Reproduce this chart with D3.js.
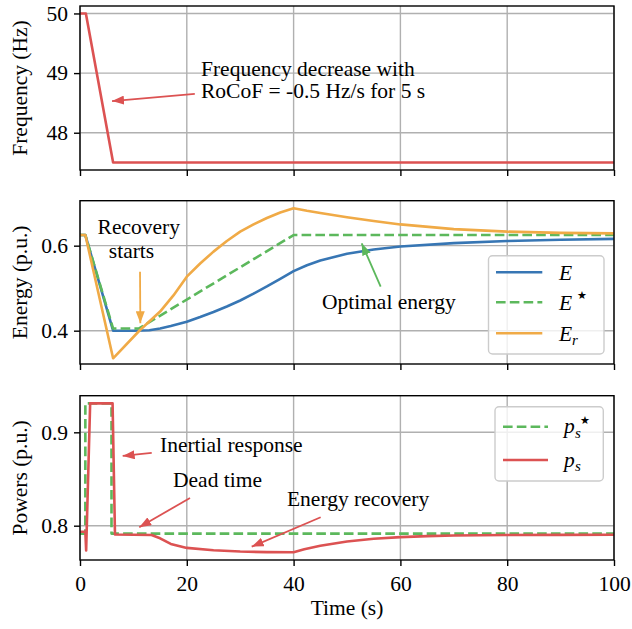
<!DOCTYPE html>
<html>
<head>
<meta charset="utf-8">
<script src="https://cdn.jsdelivr.net/npm/d3@7"></script>
<style>
  body { margin: 0; background: #fff; }
  svg text { font-family: "Liberation Serif", "DejaVu Serif", serif; fill: #000; }
</style>
</head>
<body>
<div id="container"></div>
<script>
// ---- data ----
let timeTicks = [0, 20, 40, 60, 80, 100];

let freqTime = [0, 1.1, 6.2, 100];
let freqValues = [50, 50, 47.5, 47.5];

let eTime = [0, 1, 6.2, 10, 13, 15, 17, 20, 22.5, 25, 27.5, 30, 32.5, 35, 37.5, 40, 42.5, 45, 50, 55, 60, 70, 80, 90, 100];
let eValues = [0.625, 0.625, 0.400, 0.400, 0.401, 0.405, 0.411, 0.421, 0.432, 0.444, 0.457, 0.471, 0.487, 0.504, 0.522, 0.540, 0.554, 0.565, 0.581, 0.591, 0.598, 0.606, 0.611, 0.614, 0.616];

let eStarTime = [0, 1, 6.2, 11, 40, 100];
let eStarValues = [0.625, 0.625, 0.405, 0.405, 0.625, 0.625];

let erTime = [0, 1, 6.2, 11.2, 15, 17.5, 20, 22.5, 25, 27.5, 30, 32.5, 35, 37.5, 40, 42.5, 45, 50, 55, 60, 70, 80, 90, 100];
let erValues = [0.625, 0.625, 0.335, 0.401, 0.445, 0.483, 0.527, 0.558, 0.586, 0.611, 0.633, 0.650, 0.665, 0.678, 0.688, 0.682, 0.677, 0.667, 0.658, 0.650, 0.639, 0.633, 0.630, 0.629];

let psStarTime = [0, 1, 1, 5.9, 5.9, 100];
let psStarValues = [0.7915, 0.7915, 0.931, 0.931, 0.7915, 0.7915];

let psTime = [0, 1.0, 1.15, 1.9, 6.1, 6.55, 13.4, 15, 17, 20, 25, 30, 35, 40, 42, 45, 50, 55, 60, 65, 70, 80, 90, 100];
let psValues = [0.7935, 0.7935, 0.7735, 0.931, 0.931, 0.7905, 0.7900, 0.7865, 0.7805, 0.7762, 0.7737, 0.7723, 0.7717, 0.7715, 0.7748, 0.7785, 0.7830, 0.7860, 0.7877, 0.7888, 0.7895, 0.7900, 0.7902, 0.7903];

let freqTicks = [48, 49, 50];
let energyTicks = [0.4, 0.6];
let powerTicks = [0.8, 0.9];

// ---- layout ----
let w = 632;
let h = 629;
let fontSize = 21.5;
let lw = 2.6;
let red = "#dc5252";
let blue = "#3776b4";
let green = "#5cb85c";
let orange = "#f0aa46";

let viz = d3.select("#container")
  .append("svg")
    .attr("width", w)
    .attr("height", h)
    .style("background-color", "#fff");

let defs = viz.append("defs");
function arrowMarker(id, color){
  defs.append("marker")
    .attr("id", id)
    .attr("markerUnits", "userSpaceOnUse")
    .attr("viewBox", "0 0 12 9")
    .attr("markerWidth", 12)
    .attr("markerHeight", 9)
    .attr("refX", 12)
    .attr("refY", 4.5)
    .attr("orient", "auto")
    .append("path")
      .attr("d", "M0,0 L12,4.5 L0,9 Z")
      .attr("fill", color);
}
arrowMarker("headRed", red);
arrowMarker("headOrange", orange);
arrowMarker("headGreen", green);

let xScale = d3.scaleLinear().domain([0, 100]).range([80, 614]);

function makePanel(domain, range, ticks, label, showX){
  let yScale = d3.scaleLinear().domain(domain).range(range);
  let g = viz.append("g");
  let top = range[1], bottom = range[0];

  // grid
  let grid = g.append("g").attr("stroke", "#b0b0b0").attr("stroke-width", 1.4);
  grid.selectAll(".gx").data(timeTicks).enter().append("line")
    .attr("x1", d => xScale(d)).attr("x2", d => xScale(d))
    .attr("y1", top).attr("y2", bottom);
  grid.selectAll(".gy").data(ticks).enter().append("line")
    .attr("x1", xScale(0)).attr("x2", xScale(100))
    .attr("y1", d => yScale(d)).attr("y2", d => yScale(d));

  // axes
  let yAxis = d3.axisLeft(yScale).tickValues(ticks).tickSize(6).tickPadding(6)
    .tickFormat(d3.format(ticks[0] < 1 ? ".1f" : "d"));
  let yAxisGroup = g.append("g").attr("transform", "translate(" + xScale(0) + ",0)").call(yAxis);
  let xAxis = d3.axisBottom(xScale).tickValues(timeTicks).tickSize(6).tickPadding(6)
    .tickFormat(showX ? d3.format("d") : "");
  let xAxisGroup = g.append("g").attr("transform", "translate(0," + bottom + ")").call(xAxis);
  [yAxisGroup, xAxisGroup].forEach(a => {
    a.attr("font-family", null).attr("font-size", null);
    a.select(".domain").remove();
    a.selectAll(".tick line").attr("stroke", "#000").attr("stroke-width", 1.4);
    a.selectAll(".tick text").attr("font-size", fontSize);
  });
  xAxisGroup.selectAll(".tick text").attr("dy", "0.9em");

  g.append("text")
    .attr("transform", "translate(27," + ((top + bottom) / 2) + ") rotate(-90)")
    .attr("text-anchor", "middle")
    .attr("font-size", fontSize)
    .text(label);

  let plot = g.append("g");
  g.append("rect")
    .attr("x", xScale(0)).attr("y", top)
    .attr("width", xScale(100) - xScale(0)).attr("height", bottom - top)
    .attr("fill", "none").attr("stroke", "#000").attr("stroke-width", 1.4);
  return {yScale: yScale, g: g, plot: plot};
}

function drawLine(panel, times, values, color, dashed){
  let pts = times.map((t, i) => [t, values[i]]);
  let line = d3.line().x(d => xScale(d[0])).y(d => panel.yScale(d[1]));
  panel.plot.append("path")
    .datum(pts)
    .attr("d", line)
    .attr("fill", "none")
    .attr("stroke", color)
    .attr("stroke-width", lw)
    .attr("stroke-linejoin", "round")
    .attr("stroke-dasharray", dashed ? "9.6,4.2" : null);
}

function annotate(panel, lines, tail, head, color, marker){
  lines.forEach(l => {
    panel.g.append("text")
      .attr("x", xScale(l[1]))
      .attr("y", panel.yScale(l[2]))
      .attr("font-size", fontSize)
      .text(l[0]);
  });
  panel.g.append("line")
    .attr("x1", xScale(tail[0])).attr("y1", panel.yScale(tail[1]))
    .attr("x2", xScale(head[0])).attr("y2", panel.yScale(head[1]))
    .attr("stroke", color).attr("stroke-width", 1.8)
    .attr("marker-end", "url(#" + marker + ")");
}

// ---- frequency panel ----
let p1 = makePanel([47.375, 50.125], [170, 6], freqTicks, "Frequency (Hz)", false);
drawLine(p1, freqTime, freqValues, red, false);
annotate(p1,
  [["Frequency decrease with", 22.66, 48.951], ["RoCoF = -0.5 Hz/s for 5 s", 22.66, 48.574]],
  [21.5, 48.65], [6.0, 48.53], red, "headRed");

// ---- energy panel ----
let p2 = makePanel([0.3216, 0.7058], [364, 200.7], energyTicks, "Energy (p.u.)", false);
drawLine(p2, eTime, eValues, blue, false);
drawLine(p2, eStarTime, eStarValues, green, true);
drawLine(p2, erTime, erValues, orange, false);
annotate(p2, [["Recovery", 3.3, 0.628], ["starts", 5.4, 0.5705]],
  [11.24, 0.5388], [11.3, 0.4174], orange, "headOrange");
annotate(p2, [["Optimal energy", 45.3, 0.4504]],
  [56.3, 0.5035], [52.75, 0.6056], green, "headGreen");

// legend
let leg2 = p2.g.append("g");
leg2.append("rect").attr("x", 488.5).attr("y", 255.7).attr("width", 115.5).attr("height", 98.3)
  .attr("rx", 4).attr("fill", "#fff").attr("fill-opacity", 0.8)
  .attr("stroke", "#cccccc").attr("stroke-width", 1.4);
[[blue, false, 272.3], [green, true, 302.3], [orange, false, 333.3]].forEach(d => {
  leg2.append("line").attr("x1", 496).attr("x2", 542.3).attr("y1", d[2]).attr("y2", d[2])
    .attr("stroke", d[0]).attr("stroke-width", lw).attr("stroke-dasharray", d[1] ? "9.6,4.2" : null);
});
leg2.append("text").attr("x", 559).attr("y", 279.5).attr("font-size", fontSize).attr("font-style", "italic").text("E");
leg2.append("text").attr("x", 559).attr("y", 310).attr("font-size", fontSize).attr("font-style", "italic").text("E");
leg2.append("text").attr("x", 577).attr("y", 299).attr("font-size", 11).text("★");
leg2.append("text").attr("x", 559).attr("y", 340.5).attr("font-size", fontSize).attr("font-style", "italic").text("E");
leg2.append("text").attr("x", 572).attr("y", 345).attr("font-size", 15).attr("font-style", "italic").text("r");

// ---- power panel ----
let p3 = makePanel([0.76325, 0.93922], [560, 395.7], powerTicks, "Powers (p.u.)", true);
drawLine(p3, psStarTime, psStarValues, green, true);
drawLine(p3, psTime, psValues, red, false);
annotate(p3, [["Inertial response", 14.98, 0.8793]], [13.43, 0.8779], [7.99, 0.8747], red, "headRed");
annotate(p3, [["Dead time", 17.42, 0.8418]], [20.6, 0.8297], [11.1, 0.7983], red, "headRed");
annotate(p3, [["Energy recovery", 38.76, 0.8206]], [45.07, 0.809], [32.15, 0.7775], red, "headRed");

let leg3 = p3.g.append("g");
leg3.append("rect").attr("x", 495).attr("y", 406.7).attr("width", 108.3).attr("height", 74.3)
  .attr("rx", 4).attr("fill", "#fff").attr("fill-opacity", 0.8)
  .attr("stroke", "#cccccc").attr("stroke-width", 1.4);
leg3.append("line").attr("x1", 503).attr("x2", 548).attr("y1", 426.7).attr("y2", 426.7)
  .attr("stroke", green).attr("stroke-width", lw).attr("stroke-dasharray", "9.6,4.2");
leg3.append("line").attr("x1", 503).attr("x2", 548).attr("y1", 460).attr("y2", 460)
  .attr("stroke", red).attr("stroke-width", lw);
leg3.append("text").attr("x", 564).attr("y", 433).attr("font-size", fontSize).attr("font-style", "italic").text("p");
leg3.append("text").attr("x", 575).attr("y", 438).attr("font-size", 15).attr("font-style", "italic").text("s");
leg3.append("text").attr("x", 580).attr("y", 424).attr("font-size", 11).text("★");
leg3.append("text").attr("x", 564).attr("y", 466.5).attr("font-size", fontSize).attr("font-style", "italic").text("p");
leg3.append("text").attr("x", 575).attr("y", 471).attr("font-size", 15).attr("font-style", "italic").text("s");

// x label
viz.append("text")
  .attr("x", (xScale(0) + xScale(100)) / 2)
  .attr("y", 615)
  .attr("text-anchor", "middle")
  .attr("font-size", fontSize)
  .text("Time (s)");
</script>
</body>
</html>
